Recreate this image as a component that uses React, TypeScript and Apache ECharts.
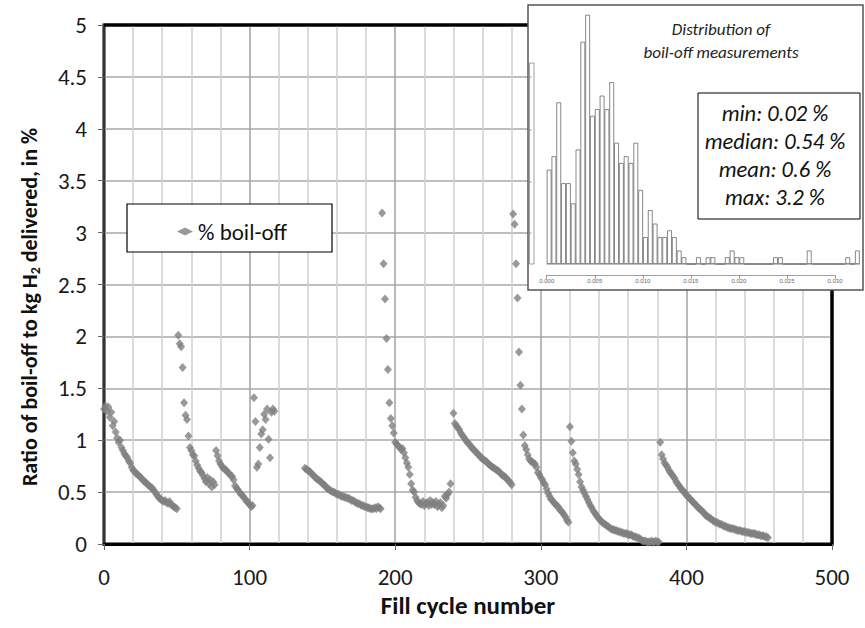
import React, { useEffect, useRef } from "react";
import * as echarts from "echarts";

// ---- main series: boil-off ratio (%) per fill cycle, by refill segment ----
const segAStart = 0;
const segA = [1.30,1.33,1.28,1.32,1.22,1.27,1.14,1.18,1.08,1.02,0.98,1.00,0.93,0.90,0.87,0.85,0.83,0.80,0.78,0.74,0.71,0.70,0.68,0.67,0.66,0.64,0.63,0.61,0.60,0.59,0.57,0.56,0.55,0.54,0.52,0.50,0.48,0.46,0.44,0.43,0.42,0.41,0.42,0.40,0.39,0.41,0.38,0.37,0.36,0.35,0.34];
const segBStart = 51;
const segB = [2.01,1.93,1.90,1.70,1.36,1.24,1.20,1.04,0.93,0.90,0.86,0.85,0.80,0.76,0.73,0.70,0.69,0.66,0.63,0.60,0.64,0.58,0.62,0.55,0.60,0.57];
const segCStart = 77;
const segC = [0.90,0.85,0.80,0.77,0.75,0.73,0.72,0.71,0.69,0.68,0.66,0.65,0.62,0.56,0.54,0.52,0.50,0.48,0.47,0.45,0.43,0.41,0.40,0.38,0.36,0.37];
const segDStart = 103;
const segD = [1.41,1.18,0.74,0.77,0.93,1.06,1.10,1.25,1.20,1.30,1.01,0.83,1.27,1.30,1.28];
const segEStart = 138;
const segE = [0.73,0.72,0.71,0.70,0.69,0.67,0.66,0.64,0.63,0.62,0.61,0.60,0.58,0.57,0.56,0.54,0.53,0.52,0.51,0.50,0.50,0.49,0.48,0.48,0.47,0.46,0.46,0.45,0.45,0.44,0.44,0.43,0.42,0.42,0.41,0.40,0.39,0.39,0.38,0.37,0.37,0.36,0.36,0.35,0.35,0.34,0.34,0.34,0.35,0.34,0.36,0.35,0.34];
const segFStart = 191;
const segF = [3.19,2.70,2.36,1.98,1.68,1.36,1.21,1.14,1.07,0.98,0.96,0.95,0.93,0.91,0.92,0.88,0.83,0.78,0.74,0.67,0.58,0.52,0.50,0.45,0.42,0.40,0.39,0.38,0.41,0.37,0.39,0.40,0.37,0.42,0.38,0.40,0.38,0.41,0.36,0.38,0.40,0.35,0.37,0.46,0.44,0.48,0.50,0.58];
const segGStart = 240;
const segG = [1.26,1.16,1.14,1.12,1.10,1.07,1.05,1.03,1.01,0.99,0.97,0.96,0.94,0.92,0.91,0.89,0.88,0.86,0.85,0.83,0.82,0.81,0.80,0.79,0.77,0.76,0.75,0.74,0.73,0.72,0.71,0.70,0.69,0.67,0.66,0.65,0.64,0.62,0.61,0.59,0.57];
const segHStart = 281;
const segH = [3.18,3.08,2.70,2.37,1.85,1.53,1.30,1.05,0.95,0.91,0.86,0.82,0.80,0.79,0.78,0.77,0.74,0.69,0.67,0.64,0.62,0.59,0.57,0.53,0.49,0.46,0.43,0.42,0.40,0.38,0.37,0.36,0.33,0.32,0.30,0.28,0.26,0.23,0.21];
const segIStart = 320;
const segI = [1.13,0.99,0.88,0.80,0.77,0.72,0.67,0.60,0.55,0.52,0.49,0.46,0.43,0.40,0.37,0.35,0.32,0.30,0.28,0.26,0.24,0.23,0.21,0.20,0.19,0.18,0.17,0.16,0.15,0.14,0.14,0.13,0.13,0.12,0.12,0.11,0.11,0.10,0.10,0.10,0.09,0.09,0.09,0.08,0.07,0.07,0.06,0.06,0.05,0.04,0.03,0.03,0.03,0.02,0.02,0.02,0.03,0.02,0.02,0.03,0.02,0.02];
const segJStart = 382;
const segJ = [0.98,0.86,0.82,0.78,0.76,0.74,0.71,0.69,0.67,0.65,0.63,0.60,0.58,0.56,0.54,0.52,0.51,0.49,0.47,0.46,0.44,0.43,0.41,0.40,0.38,0.37,0.35,0.34,0.33,0.31,0.30,0.28,0.27,0.26,0.25,0.24,0.23,0.22,0.21,0.21,0.20,0.19,0.19,0.18,0.17,0.17,0.16,0.16,0.15,0.15,0.15,0.14,0.14,0.13,0.13,0.13,0.12,0.12,0.12,0.11,0.11,0.11,0.10,0.10,0.10,0.10,0.09,0.09,0.09,0.08,0.08,0.08,0.07,0.07,0.06];

// ---- inset histogram (fraction, bin width 0.0005 from 0) ----
const histBinWidth = 0.0005;
const histCounts = [14,16,24,12,12,9,17,33,37,22,23,25,23,27,18,15,16,15,18,11,4,8,6,4,4,5,4,2,1,0,0,1,0,1,1,0,0,1,2,1,1,0,0,0,0,0,0,1,1,0,0,0,0,0,2,0,0,0,0,0,0,0,1,0,2];
const histTitle = ["Distribution of", "boil-off measurements"];
const statLines = ["min: 0.02 %", "median: 0.54 %", "mean: 0.6 %", "max: 3.2 %"];

const seriesName = "% boil-off";
const xTitle = "Fill cycle number";

const FONT = 'Carlito, Calibri, Lato, "Open Sans", sans-serif';

function buildPoints(): number[][] {
  const segs: [number, number[]][] = [
    [segAStart, segA], [segBStart, segB], [segCStart, segC], [segDStart, segD], [segEStart, segE],
    [segFStart, segF], [segGStart, segG], [segHStart, segH], [segIStart, segI], [segJStart, segJ],
  ];
  const pts: number[][] = [];
  segs.forEach(([s, vals]) => vals.forEach((v, i) => pts.push([s + i, v])));
  return pts;
}

export default function App() {
  const ref = useRef<HTMLDivElement>(null);
  useEffect(() => {
    if (!ref.current) return;
    const chart = echarts.init(ref.current, null, { renderer: "svg" });
    const binLabels = histCounts.map((_, i) => (i * histBinWidth).toFixed(4));

    const G0 = { left: 104, top: 25, width: 728, height: 519 };
    const inset = { x: 528, y: 5, w: 335, h: 285 };

    const option: any = {
      animation: false,
      backgroundColor: "#fff",
      textStyle: { fontFamily: FONT },
      grid: [
        { ...G0, show: true, borderColor: "#000", borderWidth: 3, backgroundColor: "#fff" },
        { left: 546.7, top: 8.1, width: 313.1, height: 255.9, z: 11 },
        { left: 546.7, top: 270, width: 288.3, height: 5, z: 11 },
      ],
      xAxis: [
        {
          gridIndex: 0, type: "value", min: 0, max: 500, interval: 100,
          axisLine: { show: true, onZero: false, lineStyle: { color: "#000", width: 3 } },
          axisTick: { show: true, length: 6, lineStyle: { color: "#666", width: 1 } },
          axisLabel: { fontSize: 23, color: "#1a1a1a", margin: 21, fontFamily: FONT },
          splitLine: { show: true, showMinLine: false, showMaxLine: false, lineStyle: { color: "#a2a2a2", width: 1.5 } },
          minorTick: { show: false, splitNumber: 5 },
          minorSplitLine: { show: true, lineStyle: { color: "#cfcfcf", width: 1.5 } },
          name: xTitle, nameLocation: "middle", nameGap: 47,
          nameTextStyle: { fontSize: 25, fontWeight: "bold", color: "#111", fontFamily: FONT },
        },
        { gridIndex: 1, type: "category", data: binLabels, show: false, boundaryGap: true },
        {
          gridIndex: 2, type: "value", min: 0, max: 0.03, interval: 0.005, z: 11,
          axisLine: { show: true, onZero: false, lineStyle: { color: "#888", width: 0.8 } },
          axisTick: { show: true, length: 4, lineStyle: { color: "#888", width: 0.8 } },
          axisLabel: { fontSize: 6, color: "#666", margin: 3, fontFamily: "Liberation Sans", formatter: (v: number) => v.toFixed(3) },
          splitLine: { show: false },
        },
      ],
      yAxis: [
        {
          gridIndex: 0, type: "value", min: 0, max: 5, interval: 0.5,
          axisLine: { show: true, onZero: false, lineStyle: { color: "#333", width: 2 } },
          axisTick: { show: true, length: 6, lineStyle: { color: "#666", width: 1 } },
          axisLabel: { fontSize: 23, color: "#1a1a1a", margin: 17, fontFamily: FONT },
          splitLine: { show: true, showMinLine: false, showMaxLine: false, lineStyle: { color: "#a8a8a8", width: 1.5 } },
        },
        { gridIndex: 1, type: "value", min: 0, max: 38, show: false },
        { gridIndex: 2, type: "value", show: false },
      ],
      legend: {
        show: true, data: [seriesName], left: 172, top: 215, icon: "diamond",
        itemWidth: 16, itemHeight: 8, itemGap: 5, z: 6,
        textStyle: { fontSize: 23, color: "#111", fontFamily: FONT },
      },
      series: [
        {
          type: "scatter", name: seriesName, xAxisIndex: 0, yAxisIndex: 0, data: buildPoints(),
          symbol: "diamond", symbolSize: [8, 9], itemStyle: { color: "#7f7f7f" }, z: 2,
        },
        {
          type: "bar", xAxisIndex: 1, yAxisIndex: 1, data: histCounts, barCategoryGap: "0%", barGap: "0%",
          itemStyle: { color: "#fff", borderColor: "#6a6a6a", borderWidth: 0.8 }, z: 11, silent: true,
        },
      ],
      graphic: [
        // top & right plot border (kept black over split lines)
        { type: "line", z: 5, shape: { x1: G0.left, y1: G0.top, x2: G0.left + G0.width, y2: G0.top }, style: { stroke: "#000", lineWidth: 3 } },
        { type: "line", z: 5, shape: { x1: G0.left + G0.width, y1: G0.top, x2: G0.left + G0.width, y2: G0.top + G0.height }, style: { stroke: "#000", lineWidth: 3 } },
        // legend box
        { type: "rect", z: 3, shape: { x: 127, y: 204, width: 205, height: 48 }, style: { fill: "#fff", stroke: "#000", lineWidth: 1.2 } },
        // y axis title
        {
          type: "text", z: 6, x: 29, y: 307, rotation: Math.PI / 2,
          style: {
            text: "{a|Ratio of boil-off to kg H}{s|2}{a| delivered, in %}",
            align: "center", verticalAlign: "middle", textAlign: "center", textVerticalAlign: "middle",
            rich: {
              a: { fontSize: 22, fontWeight: "bold", fill: "#111", fontFamily: FONT, lineHeight: 26 },
              s: { fontSize: 14, fontWeight: "bold", fill: "#111", fontFamily: FONT, lineHeight: 26, verticalAlign: "bottom", padding: [10, 0, 0, 0] },
            },
          },
        },
        // inset background
        { type: "rect", z: 10, shape: { x: inset.x, y: inset.y, width: inset.w, height: inset.h }, style: { fill: "#fff", stroke: "#555", lineWidth: 1.5 } },
        // cropped fragment at inset's left edge
        { type: "rect", z: 11, shape: { x: 529.5, y: 63, width: 4.5, height: 201 }, style: { fill: "none", stroke: "#888", lineWidth: 0.8 } },
        ...[77, 130, 182, 233].map((yy) => ({ type: "line", z: 11, shape: { x1: 528, y1: yy, x2: 531.5, y2: yy }, style: { stroke: "#888", lineWidth: 0.8 } })),
        // histogram baseline
        { type: "line", z: 11, shape: { x1: 546.7, y1: 264, x2: 859.8, y2: 264 }, style: { stroke: "#6a6a6a", lineWidth: 0.8 } },
        // inset title
        ...histTitle.map((t, i) => ({
          type: "text", z: 12, x: 721, y: 29 + i * 23,
          style: { text: t, align: "center", verticalAlign: "middle", textAlign: "center", textVerticalAlign: "middle", fontSize: 17, fontStyle: "italic", fill: "#222", fontFamily: FONT },
        })),
        // stats box
        { type: "rect", z: 12, shape: { x: 698, y: 93, width: 162, height: 126 }, style: { fill: "#fff", stroke: "#000", lineWidth: 1 } },
        ...statLines.map((t, i) => ({
          type: "text", z: 13, x: 775, y: 113 + i * 28.3,
          style: { text: t, align: "center", verticalAlign: "middle", textAlign: "center", textVerticalAlign: "middle", fontSize: 22.5, fontStyle: "italic", fill: "#111", fontFamily: FONT },
        })),
      ],
    };
    chart.setOption(option);
    return () => chart.dispose();
  }, []);
  return <div ref={ref} style={{ width: 865, height: 628, position: "absolute", left: 0, top: 0 }} />;
}
